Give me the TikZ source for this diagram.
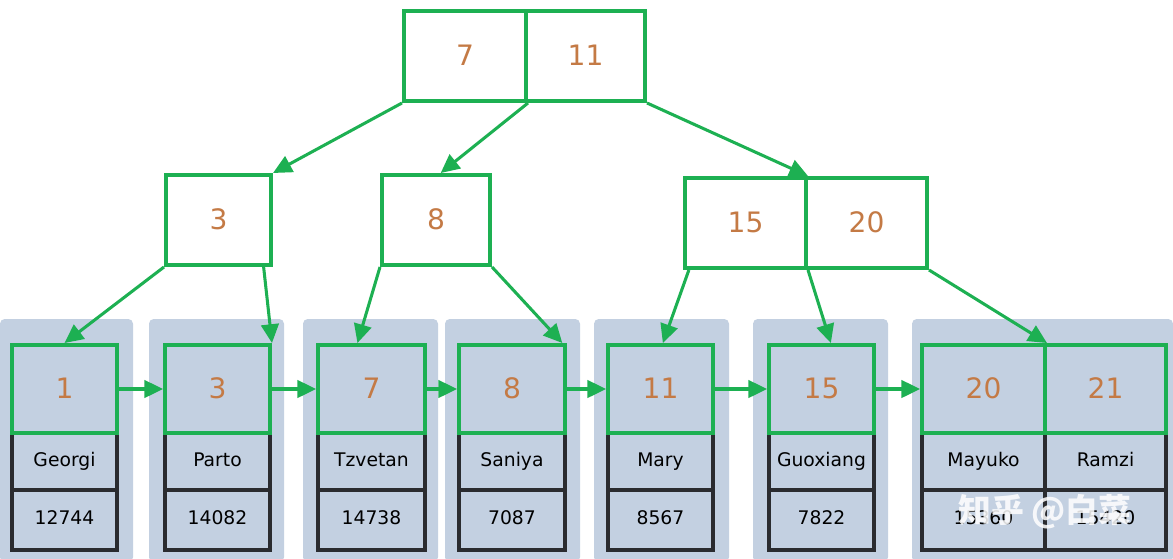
\documentclass[tikz,border=0pt]{standalone}
\usepackage{fontspec}
\setmainfont{DejaVu Sans}
\usetikzlibrary{arrows.meta}
\definecolor{keygreen}{HTML}{1DB052}
\definecolor{keytext}{HTML}{C47A45}
\definecolor{leafbg}{HTML}{C3D0E1}
\definecolor{rowline}{HTML}{2A2B2F}

\begin{document}
\begin{tikzpicture}
  [x=0.03cm,y=-0.03cm,
   key/.style={draw=keygreen,line width=3.4pt,fill=leafbg,inner sep=0,font=\fontsize{24}{28}\selectfont,text=keytext,text height=17pt,text depth=0pt},
   inner/.style={key,fill=white},
   row/.style={draw=rowline,line width=3.4pt,fill=leafbg,inner sep=0,font=\fontsize{16}{19}\selectfont,text height=12pt,text depth=4pt},
   link/.style={draw=keygreen,line width=2.6pt,-{Triangle[length=16pt,width=15pt]}},
   every node/.style={rectangle}]
  \useasboundingbox (0,0) rectangle (1173,559);

  % leaf backgrounds
  \foreach \xa/\xb in {0/133,149/284,303/438,445/580,594/729,753/888,912/1173}
    \fill[leafbg,rounded corners=4pt] (\xa,319) rectangle (\xb,562);

  % root and inner level
  \node[inner,minimum width=3.66cm,minimum height=2.7cm] (r7) at (465,56) {7};
  \node[inner,minimum width=3.57cm,minimum height=2.7cm] (r11) at (585.5,56) {11};
  \node[inner,minimum width=3.15cm,minimum height=2.7cm] (n3) at (218.5,220) {3};
  \node[inner,minimum width=3.24cm,minimum height=2.7cm] (n8) at (436,220) {8};
  \node[inner,minimum width=3.63cm,minimum height=2.7cm] (n15) at (745.5,223) {15};
  \node[inner,minimum width=3.63cm,minimum height=2.7cm] (n20) at (866.5,223) {20};

  % leaves: key, name, number
  \foreach \nm/\cx/\w/\k/\who/\num in {l1/64.5/105/1/Georgi/12744,
      l3/217.5/105/3/Parto/14082, l7/371.5/107/7/Tzvetan/14738,
      l8/512/106/8/Saniya/7087, l11/660.5/105/11/Mary/8567,
      l15/821.5/105/15/Guoxiang/7822, l20/983.5/123/20/Mayuko/15360,
      l21/1105.5/121/21/Ramzi/15420}{
    \node[row,minimum width=\w*0.03cm,minimum height=1.8cm] (\nm n) at (\cx,520) {\num};
    \node[row,minimum width=\w*0.03cm,minimum height=1.71cm] (\nm w) at (\cx,461.5) {\who};
    \node[key,minimum width=\w*0.03cm,minimum height=2.64cm] (\nm) at (\cx,389) {\k};
  }

  % tree links
  \draw[link] (r7.south west) -- (n3.north east);
  \draw[link] (r7.south east) -- ([xshift=4pt]n8.north);
  \draw[link] (r11.south east) -- (n15.north east);
  \draw[link] (n3.south west) -- (l1.north);
  \draw[link] ([xshift=-8pt]n3.south east) -- (l3.north east);
  \draw[link] (n8.south west) -- ([xshift=-12pt]l7.north);
  \draw[link] (n8.south east) -- ([xshift=-4pt]l8.north east);
  \draw[link] ([xshift=5pt]n15.south west) -- ([xshift=2pt]l11.north);
  \draw[link] (n15.south east) -- ([xshift=8pt]l15.north);
  \draw[link] (n20.south east) -- (l20.north east);

  % leaf chain
  \foreach \a/\b in {l1/l3,l3/l7,l7/l8,l8/l11,l11/l15,l15/l20}
    \draw[link] (\a.east) -- (\b.west);

  \node[text=white,opacity=0.85,font=\fontsize{28}{30}\selectfont\bfseries] (mark) at (1045,512)
    {\fontspec{Noto Sans CJK SC}知乎 @白菜};
\end{tikzpicture}
\end{document}
